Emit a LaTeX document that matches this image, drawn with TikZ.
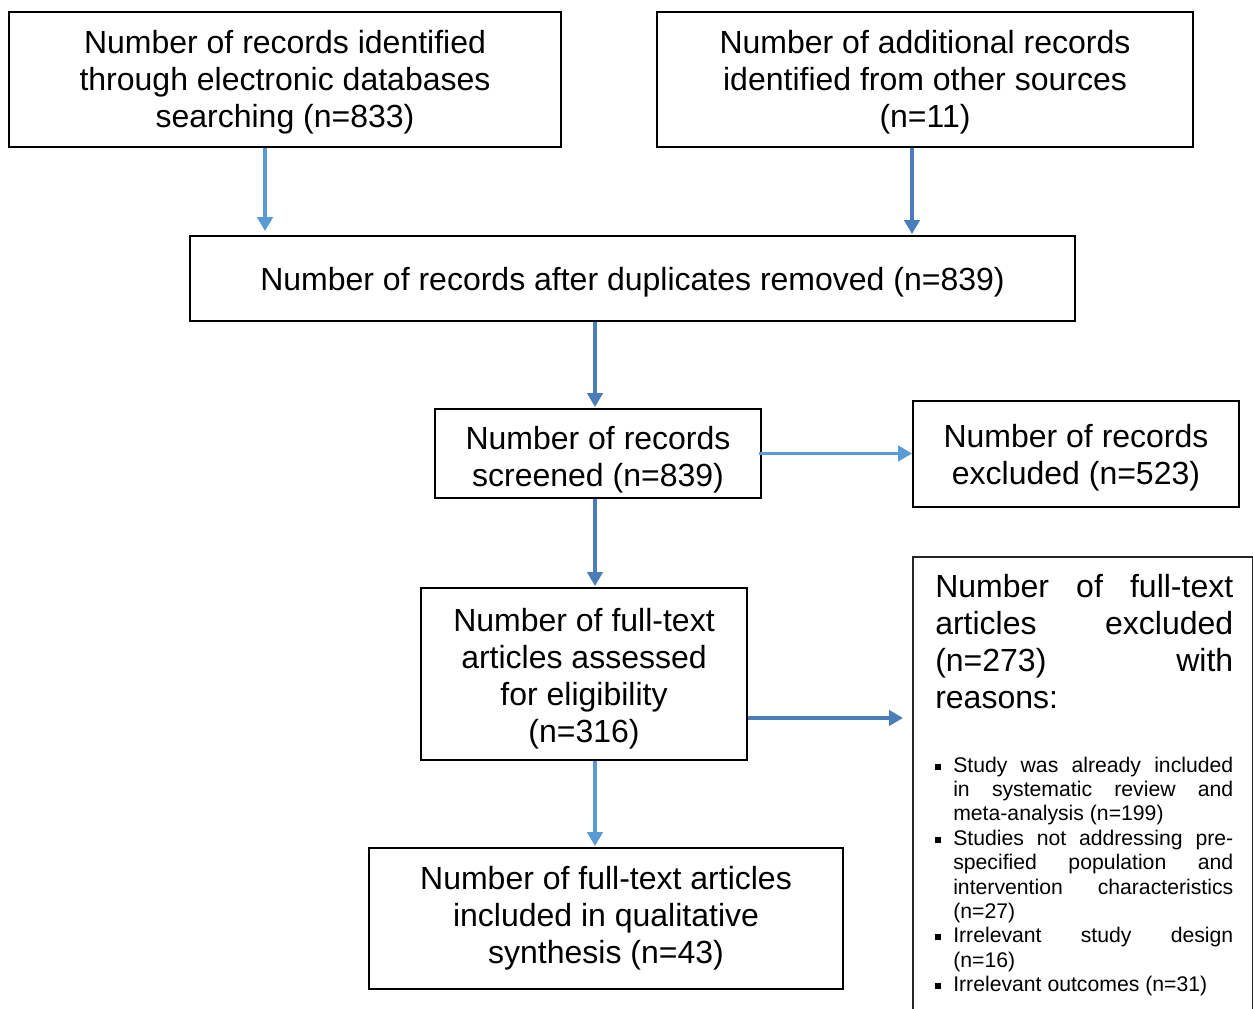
\documentclass[tikz,border=0pt]{standalone}
\usepackage{fontspec}
\setmainfont{Liberation Sans}
\usetikzlibrary{arrows.meta}
\definecolor{lblue}{HTML}{5B9BD5}
\definecolor{dblue}{HTML}{4A7EBB}
\newcommand\blt{\makebox[13.5pt][l]{\rule[1.9pt]{4.5pt}{4.5pt}}}
\newcommand\nbl{\hspace*{13.5pt}}
\newcommand\js[1]{\makebox[210pt][s]{#1}}
\newcommand\hs[1]{\makebox[223.5pt][s]{#1}}
\newcommand\up[1]{\rule{0pt}{#1}}
\begin{document}
\begin{tikzpicture}[x=0.75pt,y=-0.75pt,
  box/.style={draw=black,line width=1.4pt,align=center,inner sep=0pt,
    font=\fontsize{24pt}{27.75pt}\selectfont},
  arrl/.style={draw=lblue,line width=2.5pt,-{Triangle[length=10.5pt,width=11.5pt]}},
  arrd/.style={arrl,draw=dblue},
  txt/.style={anchor=north west,inner sep=0pt,align=left}]
\useasboundingbox (0,0) rectangle (1253,1009);

\node[box,minimum width=414pt,minimum height=101.25pt] (b1) at (285,79.5)
  {\up{22pt}Number of records identified\\through electronic databases\\searching (n=833)};
\node[box,minimum width=402pt,minimum height=101.25pt] (b2) at (925,79.5)
  {\up{22pt}Number of additional records\\identified from other sources\\(n=11)};
\node[box,minimum width=663.75pt,minimum height=63.75pt] (b3) at (632.5,278.5)
  {\up{23.5pt}Number of records after duplicates removed (n=839)};
\node[box,minimum width=244.5pt,minimum height=66.75pt] (b4) at (598,453.5)
  {\up{26.5pt}Number of records\\screened (n=839)};
\node[box,minimum width=244.5pt,minimum height=79.5pt] (b5) at (1076,454)
  {\up{23.5pt}Number of records\\excluded (n=523)};
\node[box,minimum width=244.5pt,minimum height=129pt] (b6) at (584,674)
  {\up{24.3pt}Number of full-text\\articles assessed\\for eligibility\\(n=316)};
\node[box,minimum width=355.5pt,minimum height=105.75pt] (b7) at (606,918.5)
  {Number of full-text articles\\included in qualitative\\synthesis (n=43)};

\node[anchor=north west,inner sep=0pt,minimum width=254.25pt,minimum height=339pt] (b8) at (913,557) {};
\draw[black!85,line width=1.1pt] (b8.south west) -- (b8.north west) -- (b8.north east) -- (b8.south east);

\node[txt,font=\fontsize{24pt}{27.75pt}\selectfont] (h8) at (935,574)
  {\hs{Number of full-text}\\\hs{articles excluded}\\\hs{(n=273) with}\\reasons:};
\node[txt,font=\fontsize{15.9pt}{18.3pt}\selectfont] (l8) at (935,756.5)
  {\blt\js{Study was already included}\\
   \nbl\js{in systematic review and}\\
   \nbl meta-analysis (n=199)\\
   \blt\js{Studies not addressing pre-}\\
   \nbl\js{specified population and}\\
   \nbl\js{intervention characteristics}\\
   \nbl(n=27)\\
   \blt\js{Irrelevant study design}\\
   \nbl(n=16)\\
   \blt Irrelevant outcomes (n=31)};

\coordinate (s1) at ([xshift=-15pt]b1.south);
\coordinate (s2) at ([xshift=-9.75pt]b2.south);
\coordinate (s3) at ([xshift=-28.125pt]b3.south);
\coordinate (s4) at ([xshift=-2.25pt]b4.east);
\coordinate (s5) at ([xshift=-2.25pt]b4.south);
\coordinate (s6) at ([yshift=-33pt]b6.east);
\coordinate (s7) at ([xshift=8.25pt]b6.south);

\draw[arrl,shorten >=3pt] (s1) -- (s1 |- b3.north);
\draw[arrd,shorten >=0.75pt] (s2) -- (s2 |- b3.north);
\draw[arrd,shorten >=0.75pt] (s3) -- (s3 |- b4.north);
\draw[arrl] (s4) -- (s4 -| b5.west);
\draw[arrd,shorten >=0.75pt] (s5) -- (s5 |- b6.north);
\draw[arrd,shorten >=7.5pt] (s6) -- (s6 -| b8.west);
\draw[arrl,shorten >=0.75pt] (s7) -- (s7 |- b7.north);
\end{tikzpicture}
\end{document}
